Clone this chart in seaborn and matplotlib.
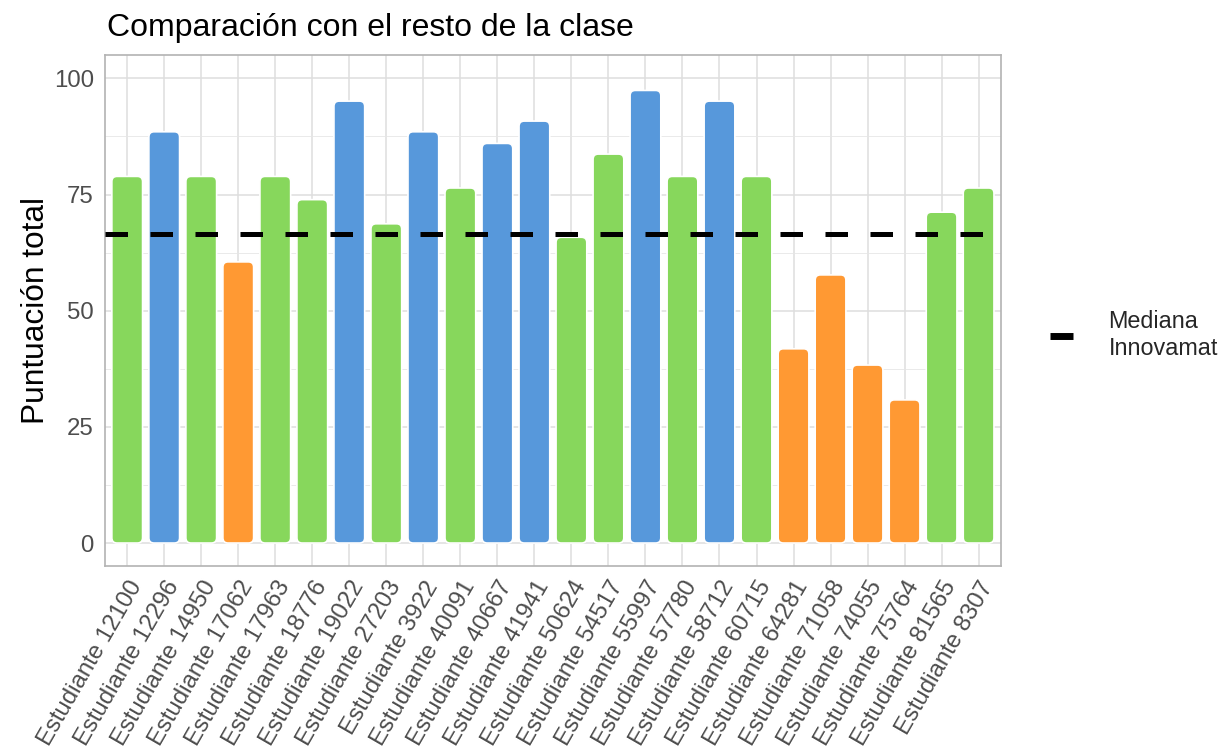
import numpy as np
import pandas as pd
import seaborn as sns
from matplotlib import pyplot as plt
from matplotlib.patches import FancyBboxPatch
from matplotlib.lines import Line2D
from matplotlib.ticker import MultipleLocator

# Data
students = ["12100", "12296", "14950", "17062", "17963", "18776", "19022", "27203",
            "3922", "40091", "40667", "41941", "50624", "54517", "55997", "57780",
            "58712", "60715", "64281", "71058", "74055", "75764", "81565", "8307"]
scores = [78.9, 88.5, 78.9, 60.5, 78.9, 73.9, 95.1, 68.7,
          88.5, 76.4, 86.0, 90.8, 65.8, 83.7, 97.4, 78.9,
          95.1, 78.9, 41.8, 57.7, 38.3, 30.8, 71.2, 76.4]
groups = ["verde", "azul", "verde", "naranja", "verde", "verde", "azul", "verde",
          "azul", "verde", "azul", "azul", "verde", "verde", "azul", "verde",
          "azul", "verde", "naranja", "naranja", "naranja", "naranja", "verde", "verde"]
median_innovamat = 66.5

group_colors = {"verde": "#87D75C", "azul": "#5798DB", "naranja": "#FF9933"}

df = pd.DataFrame({
    "estudiante": ["Estudiante " + s for s in students],
    "puntuacion": scores,
    "grupo": groups,
})

sns.set_theme(style="whitegrid")
plt.rcParams["font.family"] = ["Liberation Sans", "DejaVu Sans"]

fig = plt.figure(figsize=(12.28, 7.55), dpi=100)
ax = fig.add_axes([0.0855, 0.25, 0.7295, 0.677])

sns.barplot(data=df, x="estudiante", y="puntuacion", hue="grupo",
            palette=group_colors, dodge=False, width=0.83, saturation=1,
            legend=False, ax=ax)

ax.set_xlim(-0.6, len(students) - 0.4)
ax.set_ylim(-5, 105)

# swap the plain rectangles for rounded ones (same geometry)
x_px = 37.06
y_px = 4.65
for p in list(ax.patches):
    if p.get_height() <= 0:
        p.remove()
        continue
    x, y = p.get_x(), p.get_y()
    w, h = p.get_width(), p.get_height()
    fc = p.get_facecolor()
    p.remove()
    box = FancyBboxPatch((x, y), w, h,
                         boxstyle="round,pad=0,rounding_size=0.14",
                         mutation_aspect=x_px / y_px,
                         facecolor=fc, edgecolor="white", linewidth=1.2,
                         zorder=2)
    ax.add_patch(box)

# median line
ax.axhline(median_innovamat, color="black", linewidth=3.6,
           linestyle=(0, (4.5, 4.5)), zorder=3)

# ggplot theme_light look
ax.yaxis.set_major_locator(MultipleLocator(25))
ax.yaxis.set_minor_locator(MultipleLocator(12.5))
ax.grid(True, which="major", color="#DEDEDE", linewidth=1.1, zorder=0)
ax.grid(True, which="minor", axis="y", color="#E6E6E6", linewidth=0.6, zorder=0)
ax.set_axisbelow(True)
for side in ax.spines.values():
    side.set_color("#B3B3B3")
    side.set_linewidth(1.2)
ax.tick_params(axis="both", which="major", length=5, width=1.0, color="#B3B3B3",
               labelcolor="#4D4D4D", labelsize=17.3, pad=3)
ax.tick_params(axis="y", which="minor", length=0)
ax.set_yticks([0, 25, 50, 75, 100])
plt.setp(ax.get_xticklabels(), rotation=60, ha="right", va="top",
         rotation_mode="anchor")

ax.set_xlabel("")
ax.set_ylabel("Puntuación total", fontsize=22.8, color="black", labelpad=2)
ax.set_title("Comparación con el resto de la clase", fontsize=23, loc="left",
             pad=14, color="black", x=0.002)

handle = Line2D([], [], color="black", linewidth=5, solid_capstyle="butt")
fig.legend([handle], ["Mediana\nInnovamat"], loc="center left",
           bbox_to_anchor=(0.838, 0.556), frameon=False, fontsize=16.8,
           handlelength=1.0, handletextpad=1.5)

fig.savefig("out.png", dpi=100)
